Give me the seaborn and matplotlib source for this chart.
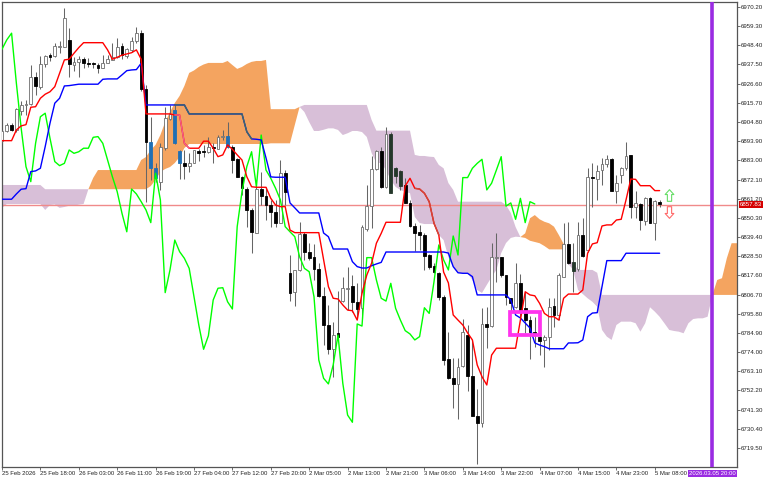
import matplotlib
matplotlib.use("Agg")
import matplotlib.pyplot as plt
import numpy as np
import pandas as pd
import seaborn as sns
from matplotlib.patches import Rectangle
from matplotlib.path import Path

opens = [
    6894.2, 6899.9, 6903.0, 6900.3, 6911.3, 6914.3, 6915.1, 6930.4, 6924.9, 6937.6,
    6942.9, 6942.4, 6947.6, 6947.6, 6951.5, 6937.4, 6938.8, 6940.7, 6938.2, 6937.8,
    6937.2, 6935.5, 6938.5, 6940.1, 6941.6, 6947.9, 6942.4, 6945.8, 6950.7, 6955.6,
    6923.6, 6893.6, 6878.5, 6870.9, 6889.9, 6906.7, 6911.7, 6888.3, 6881.3, 6880.0,
    6881.7, 6888.3, 6888.0, 6887.8, 6890.8, 6889.6, 6896.1, 6897.0, 6890.6, 6883.8,
    6873.7, 6866.6, 6854.8, 6841.9, 6866.6, 6862.8, 6857.6, 6853.8, 6847.6, 6875.7,
    6819.1, 6808.2, 6820.7, 6841.1, 6831.1, 6828.0, 6821.2, 6806.0, 6789.4, 6775.8,
    6784.9, 6803.2, 6809.9, 6811.6, 6802.5, 6799.1, 6843.8, 6857.0, 6877.9, 6888.3,
    6867.7, 6897.8, 6878.5, 6877.1, 6869.0, 6858.9, 6845.9, 6842.1, 6840.6, 6829.2,
    6823.0, 6818.8, 6805.3, 6770.1, 6759.3, 6755.7, 6766.3, 6783.7, 6760.4, 6737.7,
    6733.5, 6789.8, 6788.8, 6827.5, 6827.9, 6817.8, 6804.8, 6799.8, 6813.5, 6798.9,
    6792.2, 6785.6, 6782.8, 6780.9, 6782.8, 6800.2, 6795.1, 6816.9, 6835.5, 6825.4,
    6821.1, 6840.6, 6832.0, 6873.7, 6872.6, 6877.5, 6880.8, 6883.6, 6865.8, 6874.7,
    6878.5, 6886.0, 6856.3, 6858.2, 6848.7, 6861.4, 6847.2, 6859.5,
]
closes = [
    6899.9, 6903.0, 6900.3, 6912.1, 6914.3, 6915.1, 6930.2, 6925.1, 6937.6, 6942.4,
    6942.0, 6948.0, 6948.2, 6963.8, 6937.6, 6938.8, 6940.8, 6938.5, 6938.0, 6937.6,
    6935.7, 6938.5, 6940.5, 6942.0, 6947.6, 6942.9, 6946.2, 6951.1, 6955.4, 6923.4,
    6893.6, 6878.5, 6872.8, 6890.4, 6906.9, 6909.4, 6893.0, 6881.7, 6880.0, 6881.7,
    6888.9, 6887.4, 6887.6, 6890.4, 6890.2, 6896.5, 6896.5, 6890.8, 6883.2, 6873.7,
    6867.1, 6854.8, 6842.5, 6866.7, 6862.8, 6857.6, 6853.8, 6847.6, 6876.0, 6865.2,
    6807.6, 6820.7, 6841.1, 6830.9, 6827.5, 6821.2, 6806.0, 6789.4, 6775.8, 6783.7,
    6782.6, 6810.4, 6810.6, 6802.5, 6798.3, 6845.3, 6857.0, 6877.9, 6888.3, 6867.7,
    6897.8, 6864.6, 6874.1, 6868.4, 6858.9, 6845.7, 6841.9, 6840.6, 6828.8, 6822.6,
    6819.4, 6805.5, 6769.5, 6759.3, 6755.7, 6765.5, 6785.3, 6760.4, 6737.8, 6733.8,
    6789.8, 6788.4, 6827.9, 6828.0, 6817.8, 6805.1, 6802.1, 6813.5, 6797.9, 6792.2,
    6785.6, 6784.7, 6780.5, 6782.8, 6799.5, 6795.1, 6817.8, 6835.5, 6824.5, 6820.3,
    6840.6, 6828.6, 6873.4, 6873.0, 6877.1, 6880.8, 6883.6, 6865.8, 6870.0, 6878.5,
    6885.5, 6856.3, 6858.6, 6849.1, 6861.6, 6847.6, 6859.9, 6858.2,
]
highs = [
    6900.5, 6904.4, 6904.1, 6912.6, 6916.8, 6917.3, 6937.1, 6933.4, 6942.4, 6942.9,
    6943.9, 6949.9, 6951.1, 6969.5, 6958.1, 6942.0, 6942.4, 6941.6, 6941.0, 6939.1,
    6938.2, 6942.9, 6942.9, 6949.6, 6952.4, 6949.6, 6947.1, 6953.0, 6959.0, 6957.1,
    6925.9, 6907.8, 6881.3, 6892.7, 6913.5, 6914.5, 6914.5, 6888.9, 6888.9, 6887.0,
    6889.0, 6889.3, 6891.8, 6896.1, 6892.7, 6897.4, 6900.3, 6905.0, 6891.8, 6884.2,
    6874.1, 6868.0, 6855.8, 6871.9, 6876.6, 6867.7, 6860.5, 6860.5, 6883.2, 6877.5,
    6829.2, 6820.7, 6848.1, 6842.5, 6836.0, 6835.5, 6824.7, 6811.2, 6800.8, 6791.3,
    6808.9, 6816.9, 6822.4, 6817.8, 6813.3, 6846.0, 6869.0, 6885.5, 6888.9, 6890.8,
    6902.0, 6899.0, 6879.4, 6877.5, 6873.0, 6860.5, 6847.4, 6846.3, 6841.7, 6829.8,
    6824.7, 6819.5, 6806.5, 6785.6, 6770.6, 6770.6, 6792.8, 6789.4, 6780.9, 6753.0,
    6799.1, 6799.8, 6836.0, 6841.5, 6828.0, 6818.0, 6805.0, 6824.8, 6818.4, 6808.3,
    6794.5, 6794.1, 6784.9, 6783.7, 6804.8, 6804.8, 6819.0, 6847.4, 6848.1, 6836.0,
    6848.1, 6850.0, 6878.7, 6881.7, 6880.4, 6884.2, 6886.0, 6884.4, 6874.7, 6879.4,
    6893.6, 6886.2, 6865.8, 6858.6, 6862.4, 6862.2, 6860.5, 6860.5,
]
lows = [
    6893.0, 6899.3, 6899.9, 6899.3, 6908.6, 6908.8, 6914.5, 6920.2, 6923.4, 6936.3,
    6939.5, 6942.0, 6943.9, 6947.3, 6930.6, 6934.0, 6930.2, 6935.4, 6936.3, 6935.7,
    6932.9, 6935.4, 6938.2, 6940.1, 6941.0, 6940.5, 6941.0, 6944.8, 6949.6, 6922.6,
    6859.5, 6871.9, 6870.9, 6866.2, 6888.9, 6906.0, 6892.3, 6872.2, 6872.2, 6876.6,
    6881.3, 6882.8, 6885.1, 6887.4, 6881.3, 6889.3, 6894.6, 6889.9, 6876.0, 6873.7,
    6863.3, 6845.3, 6830.5, 6841.5, 6857.6, 6849.1, 6845.3, 6845.3, 6847.2, 6857.6,
    6803.0, 6800.4, 6820.3, 6826.4, 6826.4, 6815.0, 6805.5, 6778.0, 6772.9, 6760.0,
    6780.9, 6802.6, 6797.9, 6797.0, 6793.4, 6793.4, 6843.0, 6844.6, 6877.5, 6867.3,
    6867.3, 6864.3, 6870.1, 6866.2, 6858.8, 6845.3, 6831.7, 6832.0, 6820.7, 6821.2,
    6819.0, 6803.6, 6766.7, 6758.7, 6742.2, 6736.0, 6765.5, 6752.0, 6737.7, 6710.4,
    6731.4, 6776.3, 6788.4, 6814.0, 6816.9, 6800.8, 6796.8, 6799.0, 6793.4, 6784.9,
    6770.1, 6777.1, 6772.3, 6765.7, 6775.2, 6788.4, 6792.2, 6816.7, 6824.1, 6808.3,
    6820.3, 6828.2, 6831.0, 6856.7, 6860.5, 6869.0, 6879.4, 6865.8, 6858.6, 6870.0,
    6877.5, 6850.0, 6850.0, 6843.4, 6846.3, 6847.2, 6837.7, 6856.3,
]

tenkan = [
    6894.2, 6894.2, 6894.2, 6900.3, 6902.6, 6903.3, 6913.2, 6913.5, 6918.3, 6920.6,
    6922.0, 6924.9, 6932.5, 6940.1, 6940.5, 6943.9, 6947.1, 6949.9, 6949.9, 6949.9,
    6949.9, 6949.9, 6945.8, 6940.5, 6941.6, 6942.8, 6943.5, 6944.2, 6945.8, 6940.5,
    6909.4, 6909.4, 6909.4, 6909.4, 6909.4, 6909.4, 6908.8, 6908.8, 6892.7, 6889.9,
    6889.9, 6889.9, 6893.9, 6893.9, 6889.9, 6885.1, 6886.1, 6891.8, 6889.3, 6886.1,
    6883.2, 6873.7, 6868.0, 6867.7, 6867.7, 6867.7, 6861.4, 6857.6, 6856.7, 6856.7,
    6843.4, 6841.9, 6841.9, 6841.9, 6841.9, 6841.9, 6841.9, 6826.4, 6811.2, 6804.6,
    6804.2, 6800.8, 6797.9, 6797.5, 6792.2, 6807.4, 6817.8, 6824.5, 6835.9, 6841.5,
    6847.8, 6847.8, 6847.8, 6847.8, 6868.4, 6872.8, 6867.1, 6866.7, 6864.3, 6859.5,
    6847.2, 6840.6, 6819.5, 6813.3, 6795.1, 6792.2, 6789.4, 6784.9, 6780.9, 6766.7,
    6760.0, 6755.3, 6772.3, 6776.2, 6776.2, 6776.2, 6776.2, 6776.2, 6792.2, 6808.3,
    6806.5, 6806.0, 6801.7, 6796.0, 6794.1, 6794.1, 6792.2, 6804.6, 6807.0, 6807.0,
    6807.0, 6809.3, 6830.2, 6835.5, 6836.2, 6845.7, 6846.3, 6846.3, 6849.1, 6849.5,
    6860.5, 6872.4, 6872.2, 6868.6, 6868.6, 6868.6, 6865.8, 6865.8,
]
kijun = [
    6860.9, 6860.9, 6860.9, 6863.9, 6866.6, 6866.9, 6876.6, 6877.0, 6878.5, 6890.8,
    6904.1, 6915.5, 6918.3, 6925.3, 6925.5, 6925.9, 6926.3, 6926.3, 6926.3, 6926.3,
    6926.3, 6929.1, 6929.3, 6929.3, 6929.3, 6931.6, 6934.0, 6934.4, 6934.6, 6938.2,
    6914.5, 6914.5, 6914.5, 6914.5, 6914.5, 6914.5, 6914.5, 6914.5, 6914.5, 6909.4,
    6909.4, 6909.4, 6909.4, 6909.4, 6909.4, 6909.4, 6909.4, 6909.4, 6909.4, 6909.4,
    6909.4, 6899.3, 6895.2, 6895.0, 6894.6, 6884.4, 6873.6, 6873.4, 6873.4, 6873.4,
    6858.8, 6856.0, 6853.1, 6853.1, 6853.1, 6853.1, 6853.1, 6841.7, 6839.6, 6832.6,
    6832.6, 6832.6, 6832.6, 6825.4, 6822.6, 6821.8, 6821.8, 6823.1, 6824.1, 6825.0,
    6830.9, 6830.9, 6830.9, 6830.9, 6830.9, 6830.9, 6830.9, 6830.9, 6830.9, 6830.9,
    6830.9, 6830.9, 6830.9, 6830.3, 6822.6, 6819.1, 6818.8, 6818.8, 6816.9, 6806.5,
    6806.5, 6806.5, 6806.5, 6806.5, 6806.5, 6806.5, 6803.6, 6795.1, 6793.4, 6790.5,
    6787.7, 6779.2, 6778.0, 6777.1, 6775.9, 6775.9, 6775.9, 6775.9, 6779.2, 6779.2,
    6779.3, 6780.9, 6794.1, 6796.2, 6796.4, 6811.2, 6826.0, 6826.0, 6826.0, 6826.0,
    6830.2, 6830.2, 6830.2, 6830.2, 6830.2, 6830.2, 6830.2, 6830.2,
]
chikou = [
    6946.2, 6951.5, 6955.3, 6926.8, 6901.2, 6879.4, 6870.9, 6892.7, 6907.8, 6909.8,
    6895.6, 6882.3, 6880.0, 6881.3, 6888.9, 6887.0, 6887.9, 6889.9, 6889.9, 6896.1,
    6896.5, 6892.7, 6883.2, 6873.7, 6865.2, 6852.9, 6842.4, 6866.7, 6863.9, 6859.5,
    6854.8, 6847.6, 6875.7, 6860.5, 6807.8, 6820.7, 6837.7, 6831.1, 6827.3, 6821.6,
    6805.5, 6789.4, 6775.6, 6783.3, 6803.6, 6810.3, 6810.6, 6802.6, 6798.5, 6845.3,
    6865.2, 6879.4, 6887.9, 6868.0, 6897.4, 6877.5, 6872.8, 6867.1, 6860.5, 6845.3,
    6842.4, 6839.6, 6828.2, 6821.6, 6819.7, 6805.5, 6769.5, 6759.1, 6755.9, 6766.7,
    6783.7, 6756.3, 6738.2, 6734.1, 6790.0, 6788.8, 6827.7, 6827.7, 6815.0, 6804.6,
    6803.0, 6813.1, 6798.9, 6792.2, 6786.2, 6784.3, 6780.9, 6782.8, 6799.2, 6796.0,
    6814.0, 6834.9, 6826.4, 6820.7, 6840.0, 6829.2, 6873.2, 6873.2, 6878.5, 6881.3,
    6883.6, 6866.2, 6870.0, 6877.5, 6885.1, 6857.0, 6858.8, 6849.5, 6861.4, 6847.6,
    6859.5, 6858.2,
]

# cloud: orange where span_a is above span_b, thistle where it is below
span_a = [
    6856.0, 6858.2, 6858.2, 6858.2, 6858.2, 6858.2, 6858.2, 6858.2, 6858.2, 6854.8,
    6857.6, 6857.9, 6856.0, 6856.5, 6857.2, 6857.2, 6857.8, 6858.2, 6866.6, 6873.0,
    6877.5, 6877.5, 6877.5, 6877.5, 6877.5, 6877.5, 6877.5, 6877.5, 6877.5, 6883.2,
    6884.9, 6888.9, 6891.8, 6897.4, 6904.8, 6910.5, 6915.6, 6919.6, 6925.3, 6932.7,
    6934.1, 6936.1, 6937.5, 6938.4, 6938.4, 6938.4, 6938.4, 6939.5, 6937.2, 6935.0,
    6936.1, 6937.8, 6939.0, 6939.5, 6939.5, 6940.1, 6912.1, 6912.1, 6912.1, 6912.1,
    6912.1, 6912.1, 6913.4, 6910.5, 6904.8, 6899.7, 6899.7, 6900.4, 6901.2, 6901.2,
    6900.3, 6897.4, 6898.4, 6899.7, 6899.7, 6899.1, 6896.3, 6887.2, 6881.5, 6881.5,
    6877.5, 6871.9, 6867.9, 6866.2, 6865.0, 6864.4, 6850.8, 6847.4, 6846.8, 6846.8,
    6846.8, 6840.6, 6837.7, 6828.0, 6822.4, 6819.1, 6818.8, 6818.8, 6815.0, 6809.3,
    6807.6, 6812.2, 6816.7, 6820.7, 6830.3, 6836.0, 6838.9, 6839.6, 6839.4, 6841.5,
    6850.1, 6851.9, 6849.5, 6848.1, 6847.2, 6845.3, 6840.6, 6835.5, 6824.1, 6820.7,
    6809.3, 6807.0, 6804.6, 6802.6, 6799.8, 6786.6, 6782.8, 6780.9, 6789.4, 6791.3,
    6791.3, 6791.3, 6790.4, 6785.6, 6790.4, 6799.5, 6797.0, 6794.1, 6790.4, 6786.6,
    6786.0, 6785.6, 6784.7, 6790.4, 6792.8, 6793.2, 6793.2, 6794.1, 6806.5, 6815.0,
    6816.0, 6827.3, 6835.9, 6835.9, 6835.9,
]
span_b = [
    6869.0, 6869.0, 6869.0, 6869.0, 6869.0, 6869.0, 6869.0, 6869.0, 6869.0, 6866.6,
    6866.6, 6866.6, 6866.6, 6866.6, 6866.6, 6866.6, 6866.6, 6866.6, 6866.6, 6866.6,
    6866.6, 6866.6, 6866.6, 6866.6, 6866.6, 6866.6, 6866.6, 6866.6, 6866.6, 6866.6,
    6866.6, 6868.4, 6871.9, 6876.4, 6878.1, 6879.2, 6881.5, 6884.9, 6890.0, 6892.3,
    6892.3, 6892.3, 6892.3, 6892.3, 6892.3, 6892.3, 6892.3, 6892.3, 6892.3, 6892.3,
    6892.3, 6892.3, 6892.3, 6892.3, 6892.3, 6892.3, 6892.7, 6892.7, 6892.7, 6892.7,
    6892.7, 6903.1, 6913.4, 6914.5, 6914.5, 6914.5, 6914.5, 6914.5, 6914.5, 6914.5,
    6914.5, 6914.5, 6914.5, 6914.5, 6914.5, 6914.5, 6914.5, 6906.0, 6899.9, 6899.9,
    6899.9, 6899.9, 6899.9, 6899.9, 6899.9, 6899.9, 6886.1, 6885.5, 6885.5, 6885.1,
    6884.9, 6880.4, 6878.5, 6870.1, 6866.2, 6859.5, 6859.5, 6859.5, 6859.5, 6859.5,
    6859.5, 6859.5, 6859.5, 6859.5, 6859.5, 6857.6, 6853.1, 6845.1, 6839.4, 6838.9,
    6837.3, 6836.6, 6835.9, 6834.3, 6832.4, 6832.4, 6832.4, 6832.4, 6825.8, 6824.8,
    6820.7, 6820.7, 6820.7, 6820.7, 6819.1, 6806.5, 6806.5, 6806.5, 6806.5, 6806.5,
    6806.5, 6806.5, 6806.5, 6806.5, 6806.5, 6806.5, 6806.5, 6806.5, 6806.5, 6806.5,
    6806.5, 6806.5, 6806.5, 6806.5, 6806.5, 6806.5, 6806.5, 6806.5, 6806.5, 6806.5,
    6806.5, 6806.5, 6806.5, 6806.5, 6806.5,
]

price_ticks = [6970.2, 6959.3, 6948.4, 6937.5, 6926.6, 6915.7, 6904.8, 6893.9, 6883.0, 6872.1,
               6861.2, 6850.3, 6839.4, 6828.5, 6817.6, 6806.7, 6795.8, 6784.9, 6774.0, 6763.1,
               6752.2, 6741.3, 6730.4, 6719.5]
time_ticks = [0, 8, 16, 24, 32, 40, 48, 56, 64, 72, 80, 88, 96, 104, 112, 120, 128, 136]
time_labels = ["25 Feb 2026", "25 Feb 18:00", "26 Feb 03:00", "26 Feb 11:00", "26 Feb 19:00",
               "27 Feb 04:00", "27 Feb 12:00", "27 Feb 20:00", "2 Mar 05:00", "2 Mar 13:00",
               "2 Mar 21:00", "3 Mar 06:00", "3 Mar 14:00", "3 Mar 22:00", "4 Mar 07:00",
               "4 Mar 15:00", "4 Mar 23:00", "5 Mar 08:00"]
last_price = 6857.83
now_bar = 148
now_label = "2026.03.05 20:00"

sns.set_style("white")
plt.rcParams["font.family"] = ["Liberation Sans", "DejaVu Sans"]

bars = pd.DataFrame({"bar": np.arange(len(opens)), "open": opens, "high": highs, "low": lows,
                     "close": closes, "tenkan": tenkan, "kijun": kijun})
lagging = pd.DataFrame({"bar": np.arange(len(chikou)), "chikou": chikou})
cloud = pd.DataFrame({"bar": np.arange(len(span_a)), "a": span_a, "b": span_b})

fig = plt.figure(figsize=(7.68, 4.8), dpi=100)
ax = fig.add_axes([1.5 / 768, 1 - 467.3 / 480, 735.2 / 768, 465.6 / 480])

ax.fill_between(cloud["bar"], cloud["a"], cloud["b"], where=cloud["a"] >= cloud["b"],
                color="#F4A460", lw=0, zorder=1)
ax.fill_between(cloud["bar"], cloud["a"], cloud["b"], where=cloud["a"] <= cloud["b"],
                color="#D8BFD8", lw=0, zorder=1)

ax.axhline(last_price, color="#F08A8A", lw=1.0, zorder=2)

# black bodies change colour where they sit on the cloud
body_colors = []
for _, row in bars.iterrows():
    mid = (row["open"] + row["close"]) / 2
    a = cloud["a"].iloc[int(row["bar"])]
    b = cloud["b"].iloc[int(row["bar"])]
    if row["close"] >= row["open"]:
        body_colors.append("white")
    elif b <= mid <= a:
        body_colors.append("#1F6FB5")
    elif a <= mid <= b:
        body_colors.append("#24372A")
    else:
        body_colors.append("black")
edge_colors = ["#6E6E6E" if c == "white" else c for c in body_colors]

ax.vlines(bars["bar"], bars["low"], bars["high"], color="#666666", lw=0.75, zorder=3)
ax.bar(bars["bar"], (bars["close"] - bars["open"]).abs().clip(lower=0.6),
       bottom=bars[["open", "close"]].min(axis=1), width=0.56,
       color=body_colors, edgecolor=edge_colors, linewidth=0.6, zorder=4)

sns.lineplot(data=lagging, x="bar", y="chikou", color="#00FF00", lw=1.0, estimator=None, ax=ax, zorder=5)
sns.lineplot(data=bars, x="bar", y="kijun", color="#0000FF", lw=1.0, estimator=None, ax=ax, zorder=6)
sns.lineplot(data=bars, x="bar", y="tenkan", color="#FF0000", lw=1.0, estimator=None, ax=ax, zorder=7)

# same lines where they cross the cloud
ax.plot(bars["bar"][36:53], bars["kijun"][36:53], color="#3F6B62", lw=1.0, zorder=6)
ax.plot(bars["bar"][36:40], bars["tenkan"][36:40], color="#F0608C", lw=1.0, zorder=7)
ax.plot(bars["bar"][86:92], bars["tenkan"][86:92], color="#D0483A", lw=1.0, zorder=7)

ax.add_patch(Rectangle((105.9, 6783.7), 6.1, 13.3, fill=False, ec="#FF33EE", lw=2.7, zorder=8))
ax.axvline(now_bar, color="#9A2BE2", lw=2.6, zorder=8)

up_verts = [(0, 6), (4.5, 1), (2.2, 1), (2.2, -6), (-2.2, -6), (-2.2, 1), (-4.5, 1), (0, 6)]
up_arrow = Path(up_verts, closed=True)
down_arrow = Path([(x, -y) for x, y in up_verts], closed=True)
ax.scatter([138.9], [6863.3], marker=up_arrow, s=70, facecolor="white", edgecolor="#66DD66", lw=0.8, zorder=9)
ax.scatter([138.9], [6853.4], marker=down_arrow, s=70, facecolor="white", edgecolor="#FF6A6A", lw=0.8, zorder=9)

ax.set_xlim(-0.1, 153.06)
ax.set_ylim(6708.5, 6973.2)
ax.set_xlabel("")
ax.set_ylabel("")
ax.yaxis.tick_right()
ax.set_yticks(price_ticks)
ax.set_yticklabels([f"{p:.2f}" for p in price_ticks], fontsize=4.4, color="#222222")
ax.set_xticks(time_ticks)
ax.set_xticklabels(time_labels, fontsize=4.3, color="#222222", ha="left")
ax.tick_params(axis="y", length=2, width=0.6, color="#555555", pad=0.6, right=True, left=False)
ax.tick_params(axis="x", length=2, width=0.6, color="#555555", pad=0.8, bottom=True)
for spine in ax.spines.values():
    spine.set_color("#555555")
    spine.set_linewidth(0.9)

ax.annotate(f"{last_price:.2f}", xy=(1, last_price), xycoords=ax.get_yaxis_transform(),
            xytext=(2.3, 0), textcoords="offset points", ha="left", va="center",
            fontsize=4.4, color="white", annotation_clip=False,
            bbox=dict(fc="#D50000", ec="none", pad=0.9))
ax.annotate(now_label, xy=(now_bar, 0), xycoords=ax.get_xaxis_transform(),
            xytext=(0, -4.5), textcoords="offset points", ha="center", va="center",
            fontsize=4.3, color="white", annotation_clip=False,
            bbox=dict(fc="#9A2BE2", ec="none", pad=0.8))

fig.savefig("out.png", dpi=100)
